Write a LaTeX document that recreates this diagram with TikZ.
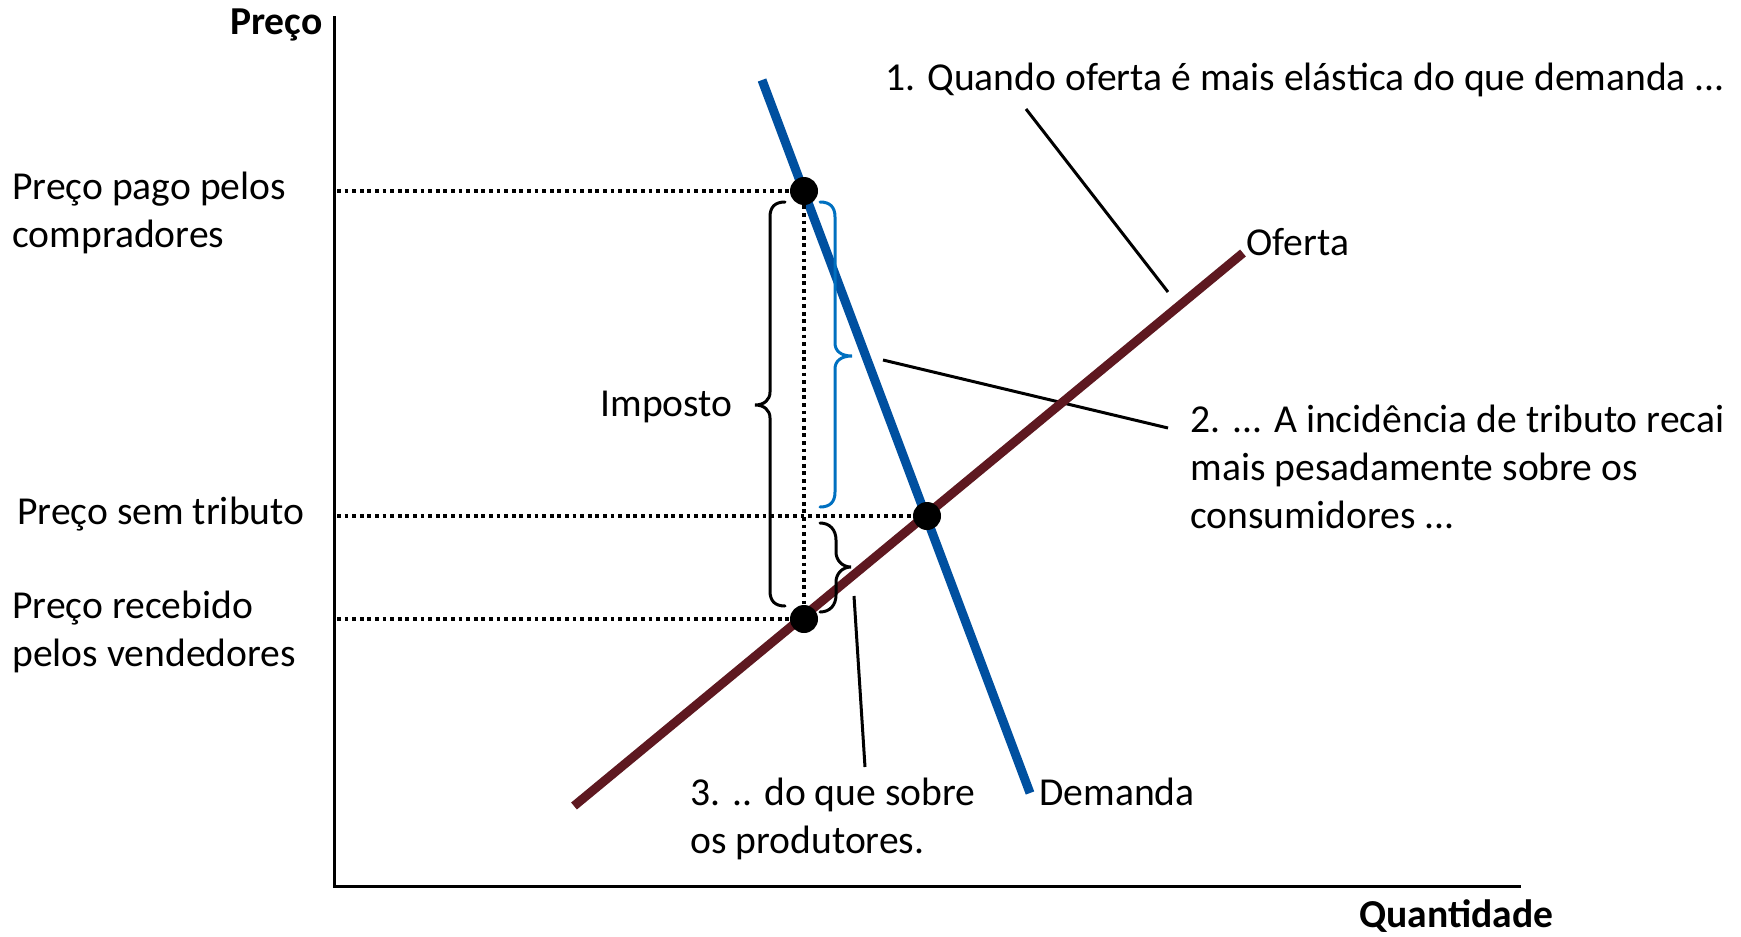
\documentclass[tikz,border=0pt]{standalone}
\usepackage{fontspec}
\setmainfont{Carlito}
\definecolor{demblue}{RGB}{0,80,160}
\definecolor{supred}{RGB}{94,24,32}
\definecolor{brblue}{RGB}{0,112,192}
\begin{document}
\begin{tikzpicture}[x=0.5pt,y=-0.5pt,
  lbl/.style={font=\fontsize{19.8}{24}\selectfont, inner sep=0pt, align=left},
  blbl/.style={lbl, font=\fontsize{19.8}{24}\selectfont\bfseries},
  axisline/.style={line width=1.5pt, line cap=rect},
  dotline/.style={line width=1.75pt, dash pattern=on 1.9pt off 1.9pt},
  curve/.style={line width=4.5pt},
  leader/.style={line width=1.5pt},
  bracepath/.style={line width=1.5pt, line cap=round},
  bigdot/.style={circle, fill=black, inner sep=0pt, minimum size=14pt}
]
\useasboundingbox (0,0) rectangle (1741,937);

% axes
\coordinate (o) at (334,886);
\coordinate (ytop) at (334,17);
\coordinate (xend) at (1519,886);
\draw[axisline] (ytop) -- (o) -- (xend);

% curves
\coordinate (d1) at (762,80);
\coordinate (d2) at (1030,793);
\coordinate (s1) at (574,806);
\coordinate (s2) at (1243,253);

% leader lines
\coordinate (l1a) at (1026,109);
\coordinate (l1b) at (1168,292);
\coordinate (l2a) at (883,360);
\coordinate (l2b) at (1168,428);
\coordinate (l3a) at (854,596);
\coordinate (l3b) at (865,767);
\draw[leader] (l1a) -- (l1b);
\draw[leader] (l2a) -- (l2b);
\draw[leader] (l3a) -- (l3b);

\draw[curve, demblue] (d1) -- (d2);
\draw[curve, supred] (s1) -- (s2);

% dots
\node[bigdot] (pb) at (804,191) {};
\node[bigdot] (eq) at (927,516) {};
\node[bigdot] (ps) at (804,619) {};

% dotted guide lines
\coordinate (ypb) at (337,191);
\coordinate (yeq) at (337,516);
\coordinate (yps) at (337,619);
\draw[dotline] (ypb) -- (pb);
\draw[dotline] (yeq) -- (eq);
\draw[dotline] (yps) -- (ps);
\draw[dotline] (pb) -- (ps);

% braces
\draw[bracepath] (785,202) .. controls (775,202) and (770,207) .. (770,217) -- (770,392)
  .. controls (770,400) and (764,405) .. (755,405) .. controls (764,405) and (770,410) .. (770,418)
  -- (770,591) .. controls (770,601) and (775,606) .. (785,606);
\draw[bracepath, brblue] (820,202) .. controls (830,202) and (835,207) .. (835,217) -- (835,343)
  .. controls (835,351) and (841,356) .. (852,356) .. controls (841,356) and (835,361) .. (835,369)
  -- (835,492) .. controls (835,502) and (830,507) .. (820,507);
\draw[bracepath] (820,523) .. controls (830,523) and (836,530) .. (836,540) -- (836,552)
  .. controls (836,560) and (842,567) .. (851,567) .. controls (842,567) and (836,574) .. (836,582)
  -- (836,595) .. controls (836,605) and (830,612) .. (820,612);

% labels (base anchor = baseline of the last line)
\node[blbl, anchor=base east] (lp) at (323,34) {Preço};
\node[blbl, anchor=base west] (lq) at (1359,927) {Quantidade};
\node[lbl, anchor=base west] (lpb) at (12,247) {Preço pago pelos\\compradores};
\node[lbl, anchor=base west] (lst) at (17,524) {Preço sem tributo};
\node[lbl, anchor=base west] (lps) at (12,666) {Preço recebido\\pelos vendedores};
\node[lbl, anchor=base west] (limp) at (600,416) {Imposto};
\node[lbl, anchor=base west] (l1) at (885,90) {1. Quando oferta é mais elástica do que demanda ...};
\node[lbl, anchor=base west] (lof) at (1246,255) {Oferta};
\node[lbl, anchor=base west] (l2) at (1190,528) {2. ... A incidência de tributo recai\\mais pesadamente sobre os\\consumidores ...};
\node[lbl, anchor=base west] (ldem) at (1039,805) {Demanda};
\node[lbl, anchor=base west] (l3) at (690,853) {3. .. do que sobre\\os produtores.};
\end{tikzpicture}
\end{document}
